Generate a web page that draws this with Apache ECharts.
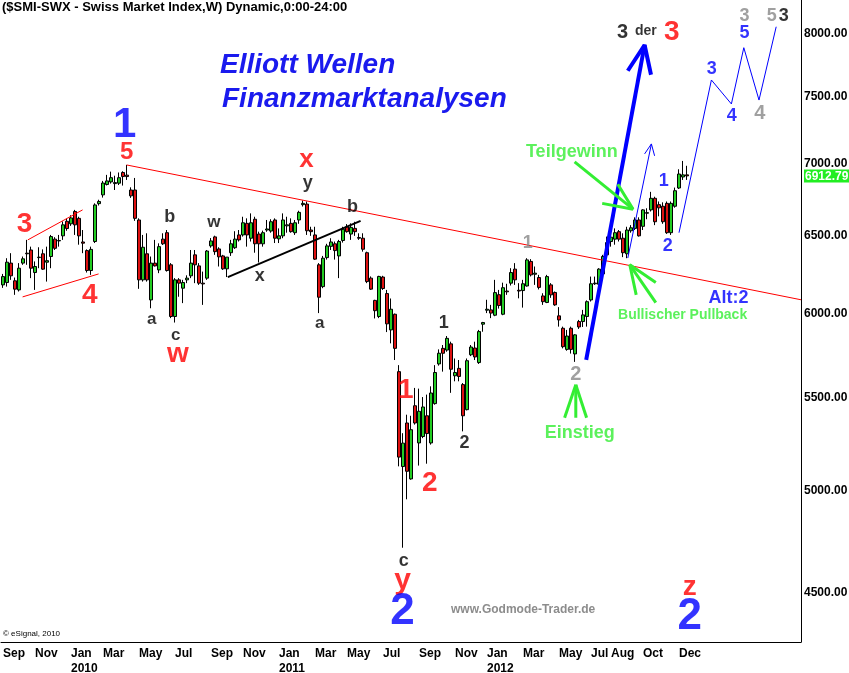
<!DOCTYPE html>
<html><head><meta charset="utf-8">
<script src="https://cdn.jsdelivr.net/npm/echarts@6/dist/echarts.min.js"></script>
<style>html,body{margin:0;padding:0;background:#fff}#c{width:849px;height:673px}</style>
</head><body><div id="c"></div>
<script>
// ---------- DATA ----------
const startMonday = [2009, 8, 7];   // first weekly bar: 2009-09-07
const weekCount = 200;              // weekly slots incl. projection area
const opens = [6179,6194,6319,6205,6147,6319,6384,6405,6258,6355,
6380,6325,6362,6477,6465,6499,6597,6580,6664,6617,
6458,6401,6271,6461,6718,6779,6852,6870,6858,6861,
6937,6918,6813,6813,6606,6211,6380,6084,6319,6275,
6477,6520,6308,5981,6211,6158,6211,6237,6373,6301,
6190,6222,6432,6492,6412,6366,6282,6387,6420,6505,
6505,6583,6483,6611,6511,6446,6538,6531,6606,6479,
6499,6566,6583,6520,6606,6711,6715,6538,6505,6308,
6168,6355,6429,6446,6366,6468,6560,6511,6549,6488,
6483,6387,6222,6081,5981,6229,6124,5899,5995,5651,
5125,5360,5060,5456,5251,5286,5400,5251,5468,5696,
5788,5778,5815,5627,5670,5576,5434,5750,5790,5704,
5934,6020,6022,5989,6117,5995,6140,6190,6280,6145,
6143,6172,6330,6247,6226,6109,6068,6179,6131,5985,
5909,5782,5909,5755,5950,5950,5981,6084,6186,6183,
6249,6373,6461,6477,6527,6483,6380,6533,6549,6606,
6563,6652,6675,6755,6711,6700,6720,6520,6700,6827,
6905,6920];
const highs = [6249,6351,6384,6226,6319,6362,6472,6427,6330,6423,
6409,6427,6505,6490,6505,6596,6616,6638,6675,6628,
6538,6409,6427,6720,6745,6877,6920,6943,6914,6937,
6946,6991,6832,6898,6617,6505,6516,6362,6472,6449,
6516,6538,6319,6222,6222,6211,6240,6405,6405,6319,
6264,6405,6484,6500,6423,6373,6358,6472,6530,6538,
6628,6617,6651,6628,6527,6534,6606,6611,6617,6549,
6651,6628,6617,6606,6669,6740,6733,6560,6560,6319,
6366,6446,6483,6461,6472,6560,6578,6583,6594,6516,
6516,6394,6233,6085,6237,6237,6147,6093,5999,5689,
5304,5406,5400,5557,5553,5505,5519,5566,5689,5782,
5808,5862,5828,5728,5719,5585,5728,5808,5828,5899,
5948,6085,6053,6211,6147,6193,6186,6286,6319,6190,
6211,6351,6345,6297,6243,6126,6243,6190,6137,6039,
5919,5899,5919,5873,5960,6022,6081,6232,6232,6286,
6373,6494,6527,6549,6538,6516,6560,6571,6624,6624,
6680,6686,6800,6766,6733,6727,6733,6733,6830,6960,
7020,6985];
const lows = [6160,6168,6211,6116,6137,6308,6308,6222,6147,6286,
6275,6200,6286,6405,6427,6472,6533,6566,6505,6440,
6384,6258,6243,6451,6705,6760,6845,6858,6813,6848,
6844,6884,6758,6600,6154,6200,6200,6032,6297,6254,
6438,6264,5971,5944,6104,6064,6190,6222,6190,6179,
6053,6211,6420,6373,6297,6275,6229,6366,6412,6461,
6494,6427,6461,6387,6323,6427,6526,6520,6451,6451,
6483,6520,6520,6505,6580,6698,6505,6499,6340,6002,
6158,6342,6405,6342,6222,6454,6520,6472,6499,6472,
6394,6190,6147,5969,5971,6147,5886,5818,5719,5126,
4714,4955,5056,5351,5130,5277,5140,5242,5462,5686,
5651,5768,5529,5595,5595,5314,5430,5742,5719,5696,
5888,6002,5971,5983,6030,5989,6116,6175,6179,6094,
6036,6168,6233,6179,6150,6053,6064,6097,6047,5919,
5788,5774,5757,5708,5905,5917,5919,6074,6179,6168,
6243,6362,6427,6440,6461,6358,6351,6520,6538,6494,
6538,6611,6664,6571,6631,6580,6512,6505,6690,6820,
6884,6884];
const closes = [6232,6325,6237,6152,6286,6347,6380,6286,6297,6358,
6280,6335,6494,6416,6468,6573,6548,6620,6573,6499,
6450,6271,6409,6709,6733,6862,6877,6900,6865,6900,
6908,6908,6772,6617,6211,6423,6211,6319,6301,6427,
6446,6271,5981,6211,6190,6194,6222,6319,6308,6190,
6185,6398,6465,6394,6360,6282,6358,6446,6477,6472,
6587,6505,6587,6446,6446,6520,6545,6594,6483,6499,
6606,6573,6527,6587,6658,6720,6533,6527,6345,6101,
6351,6432,6458,6401,6461,6543,6527,6556,6527,6483,
6410,6200,6152,6017,6233,6156,5936,6026,5788,5175,
5250,5100,5323,5360,5425,5449,5302,5528,5646,5759,
5759,5848,5665,5646,5623,5400,5715,5796,5737,5889,
5944,6026,6002,6130,6049,6161,6135,6258,6211,6140,
6186,6340,6243,6254,6163,6073,6232,6116,6053,5960,
5798,5862,5782,5869,5917,5991,6073,6186,6190,6280,
6362,6454,6490,6520,6477,6387,6538,6553,6606,6499,
6675,6656,6755,6594,6689,6594,6520,6720,6808,6926,
6920,6912.79];
const lastPrice = 6912.79;
const yTicks = [4500,5000,5500,6000,6500,7000,7500,8000];
const yMinPrice = 4278, yMaxPrice = 8285;
const xTickMonths = ['2009-09','2009-11','2010-01','2010-03','2010-05','2010-07','2010-09','2010-11',
  '2011-01','2011-03','2011-05','2011-07','2011-09','2011-11','2012-01','2012-03','2012-05','2012-07',
  '2012-08','2012-10','2012-12'];
const xTickNames = ['Sep','Nov','Jan\n2010','Mar','May','Jul','Sep','Nov','Jan\n2011','Mar','May','Jul',
  'Sep','Nov','Jan\n2012','Mar','May','Jul','Aug','Oct','Dec'];

// wave annotations: [week index, price, text, colour, font size]
const RED = '#ff0000', BLUE = '#0000ff', BLK = '#000000', GRY = '#888888', GRN = '#33ee33';
const waveLabels = [
  [30.4,7285,'1',BLUE,42],[30.9,7085,'5',RED,24],[5.4,6579,'3',RED,28],[21.7,6116,'4',RED,28],
  [41.7,6626,'b',BLK,18],[37.2,5966,'a',BLK,17],[43.2,5869,'c',BLK,17],[43.7,5754,'w',RED,28],
  [52.7,6587,'w',BLK,17],[64.2,6237,'x',BLK,18],[75.9,7027,'x',RED,26],[76.2,6862,'y',BLK,18],
  [87.4,6695,'b',BLK,18],[79.2,5942,'a',BLK,17],
  [100.7,5546,'1',RED,28],[106.7,5039,'2',RED,28],[110.2,5942,'1',BLK,18],[115.4,5251,'2',BLK,18],
  [100.2,4650,'c',BLK,18],[99.9,4557,'y',RED,30],[99.9,4411,'2',BLUE,44],
  [131.2,6452,'1',GRY,18],[143.2,5632,'2',GRY,20],
  [144.2,5306,'Einstieg',GRN,18],[142.2,7085,'Teilgewinn',GRN,18],[169.9,5991,'Bullischer Pullback',GRN,14],
  [181.4,6097,'Alt:2',BLUE,18],[165.2,6877,'1',BLUE,18],[166.2,6432,'2',BLUE,18],
  [154.9,8016,'3',BLK,20],[160.7,8025,'der',BLK,14],[167.2,8016,'3',RED,28],
  [177.2,7717,'3',BLUE,18],[182.2,7353,'4',BLUE,18],[185.4,8008,'5',BLUE,18],
  [185.4,8150,'3',GRY,18],[189.2,7375,'4',GRY,20],[192.2,8150,'5',GRY,18],[195.2,8150,'3',BLK,18],
  [171.7,4528,'z',RED,28],[171.7,4390,'2',BLUE,44]
];
// drawn lines: [points [[week index, price],...], colour, width]
const drawnLines = [
  [[[30.9,6991],[199.5,6085]],RED,1],
  [[[6.2,6472],[19.9,6675]],RED,1],
  [[[4.9,6103],[23.9,6249]],RED,1],
  [[[56.2,6229],[89.4,6600]],BLK,2],
  [[[145.8,5720],[160.4,7910]],BLUE,4],
  [[[156.2,7703],[160.4,7910],[162.0,7671]],BLUE,4],
  [[[156.2,6352],[162.1,7144]],BLUE,1],
  [[[160.4,7071],[162.1,7144],[162.9,7057]],BLUE,1],
  [[[169.0,6520],[177.1,7630],[182.1,7444],[185.2,7888],[189.0,7474],[193.3,8060]],BLUE,1],
  [[[142.9,7013],[157.5,6680]],GRN,3],
  [[[153.7,6853],[157.5,6680],[149.8,6720]],GRN,3],
  [[[156.7,6308],[163.2,6067]],GRN,3],
  [[[158.3,6116],[156.7,6308],[163.2,6194]],GRN,3],
  [[[143.2,5575],[140.4,5389]],GRN,3],
  [[[143.2,5575],[143.2,5389]],GRN,3],
  [[[143.2,5575],[145.9,5389]],GRN,3]
];

// ---------- BUILD ----------
const L = Math.log;
const FONT = 'Arial, "Liberation Sans", sans-serif';
const cats = [];
(function(){ const d0 = Date.UTC(startMonday[0], startMonday[1], startMonday[2]);
  for (let k = 0; k < weekCount; k++) cats.push(new Date(d0 + k*7*86400000).toISOString().slice(0,10)); })();
const labelAt = {};
xTickMonths.forEach((m, j) => { const idx = cats.findIndex(c => c.startsWith(m)); if (idx >= 0) labelAt[idx] = xTickNames[j]; });

const candles = opens.map((o, k) => [L(o), L(closes[k]), L(lows[k]), L(highs[k])]);

const series = [{
  type: 'candlestick', data: candles, barWidth: 3, xAxisIndex: 0, yAxisIndex: 0,
  itemStyle: { color: '#22cc22', color0: '#dd1111', borderColor: '#000', borderColor0: '#000', borderColorDoji: '#000', borderWidth: 1 },
  silent: true, z: 2
}];
drawnLines.forEach(dl => series.push({
  type: 'line', xAxisIndex: 1, yAxisIndex: 0, data: dl[0].map(p => [p[0], L(p[1])]),
  symbol: 'none', silent: true, z: 5, lineStyle: { color: dl[1], width: dl[2] }
}));
series.push({
  type: 'scatter', xAxisIndex: 1, yAxisIndex: 0, symbolSize: 1, silent: true, z: 10,
  itemStyle: { color: 'rgba(0,0,0,0)' },
  data: waveLabels.map(w => ({ value: [w[0], L(w[1])],
    label: { show: true, position: 'inside', formatter: w[2], color: w[3], fontSize: w[4], fontWeight: 'bold', fontFamily: FONT } }))
});

const chart = echarts.init(document.getElementById('c'), null, { renderer: 'canvas' });
chart.setOption({
  animation: false, backgroundColor: '#fff',
  grid: { left: 1, right: 48, top: 0, bottom: 31, containLabel: false, outerBoundsMode: 'none' },
  xAxis: [{
    type: 'category', data: cats, boundaryGap: true,
    axisLine: { show: true, onZero: false, lineStyle: { color: '#000', width: 1 } }, axisTick: { show: false }, splitLine: { show: false },
    axisLabel: { interval: (idx) => labelAt[idx] !== undefined, formatter: (v, idx) => labelAt[idx] || '',
      align: 'left', fontWeight: 'bold', fontSize: 12, color: '#000', margin: 4, lineHeight: 15, fontFamily: FONT }
  }, { type: 'value', min: -0.5, max: weekCount - 0.5, show: false, axisLine: { show: false, onZero: false }, splitLine: { show: false } }],
  yAxis: [{
    type: 'value', position: 'right', min: L(yMinPrice), max: L(yMaxPrice),
    axisLine: { show: true, onZero: false, lineStyle: { color: '#000', width: 1 } }, axisTick: { show: false }, splitLine: { show: false },
    axisLabel: {
      customValues: yTicks.map(L).concat([L(lastPrice)]), margin: 3,
      formatter: (v) => { const p = Math.exp(v); return Math.abs(p - lastPrice) < 0.5 ? '{tag|' + lastPrice.toFixed(2) + '}' : '{n|' + Math.round(p).toFixed(2) + '}'; },
      rich: {
        n: { fontWeight: 'bold', fontSize: 12, color: '#000', fontFamily: FONT },
        tag: { fontWeight: 'bold', fontSize: 12, color: '#fff', backgroundColor: '#22ee22', padding: [1, 3, 0, 1], fontFamily: FONT }
      }
    }
  }],
  graphic: [
    { type: 'text', left: 2, top: 1, style: { text: '($SMI-SWX - Swiss Market Index,W) Dynamic,0:00-24:00', font: 'bold 13px ' + FONT, fill: '#000' } },
    { type: 'text', left: 220, top: 51, style: { text: 'Elliott Wellen', font: 'italic bold 28px ' + FONT, fill: '#1a1aee' } },
    { type: 'text', left: 222, top: 85, style: { text: 'Finanzmarktanalysen', font: 'italic bold 28px ' + FONT, fill: '#1a1aee' } },
    { type: 'text', left: 451, top: 604, style: { text: 'www.Godmode-Trader.de', font: 'bold 12px ' + FONT, fill: '#8c8c8c' } },
    { type: 'text', left: 3, top: 630, style: { text: '\u00A9 eSignal, 2010', font: '8px ' + FONT, fill: '#000' } }
  ],
  series: series
});
</script></body></html>
